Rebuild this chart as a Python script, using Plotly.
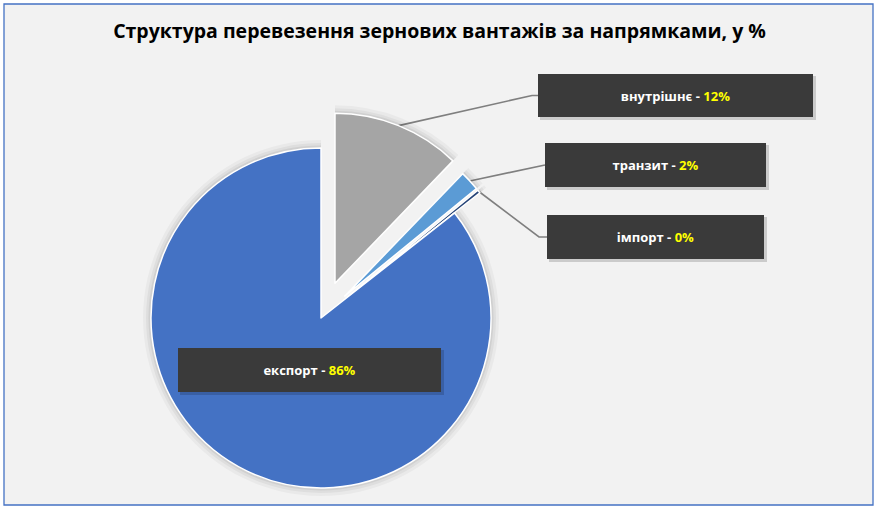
import math
import plotly.graph_objects as go

# --- data ---
categories = ["внутрішнє", "транзит", "імпорт", "експорт"]
shares = [12.2, 1.9, 0.3, 85.6]
title_text = "Структура перевезення зернових вантажів за напрямками, у %"

# --- styling / layout ---
W, H = 879, 510
CX, CY, R = 321, 318, 170          # pie centre & radius in px
colors = ["#A5A5A5", "#5B9BD5", "#264478", "#4472C4"]
pulls = [0.22, 0.19, 0.19, 0.0]    # explosion, fraction of radius
# label boxes in px: x0, y0, x1, y1
boxes = [(538, 74, 813, 117), (545, 143, 766, 187), (547, 215, 764, 259), (178, 348, 441, 392)]
elbow_gap = [6, 0, 8, None]
FONT = "Open Sans"

total = sum(shares)
fig = go.Figure()

# slice geometry: mid angle and exploded centre of each slice
cum = 0.0
mids, centres = [], []
for i in range(len(categories)):
    frac = shares[i] / total
    mid = (cum + frac / 2) * 2 * math.pi
    cum += frac
    mids.append(mid)
    d = pulls[i] * R
    centres.append((CX + d * math.sin(mid), CY - d * math.cos(mid)))


def pie_trace(i, r, fill, line_col, line_w):
    # one pie per slice, other slices transparent, "pull" done by moving the domain
    cx, cy = centres[i]
    cols = ["rgba(0,0,0,0)"] * len(categories)
    lcols = ["rgba(0,0,0,0)"] * len(categories)
    cols[i] = fill
    lcols[i] = line_col
    return go.Pie(
        labels=categories, values=shares, sort=False, direction="clockwise", rotation=0,
        marker=dict(colors=cols, line=dict(color=lcols, width=line_w)),
        textinfo="none", showlegend=False, hoverinfo="label+percent",
        domain=dict(x=[(cx - r) / W, (cx + r) / W], y=[(H - cy - r) / H, (H - cy + r) / H]),
    )


# soft shadow first, then the real slices
for grow, alpha in [(8, 0.035), (5, 0.045), (2.5, 0.06)]:
    for i in range(len(categories)):
        fig.add_trace(pie_trace(i, R + grow, f"rgba(0,0,0,{alpha})", "rgba(0,0,0,0)", 0))
for i in range(len(categories)):
    fig.add_trace(pie_trace(i, R, colors[i], "#FFFFFF", 1.5))

shapes = [dict(type="rect", xref="paper", yref="paper", x0=4 / W, x1=873 / W, y0=1 - 505 / H, y1=1 - 4 / H,
               fillcolor="#F2F2F2", line=dict(color="#4472C4", width=1.3), layer="below")]
annotations = []
for i, cat in enumerate(categories):
    x0, y0, x1, y1 = boxes[i]
    ym = (y0 + y1) / 2
    cx, cy = centres[i]
    # leader line from slice edge to label box
    if elbow_gap[i] is not None:
        sx = cx + R * math.sin(mids[i])
        sy = cy - R * math.cos(mids[i])
        fig.add_trace(go.Scatter(
            x=[sx, x0 - elbow_gap[i], x0], y=[sy, ym, ym], mode="lines",
            line=dict(color="#7F7F7F", width=1.6), hoverinfo="skip", showlegend=False,
        ))
    # box shadow
    shapes.append(dict(type="rect", xref="paper", yref="paper",
                       x0=(x0 + 2) / W, x1=(x1 + 3) / W, y0=1 - (y1 + 3) / H, y1=1 - (y0 + 2) / H,
                       fillcolor="rgba(0,0,0,0.16)", line=dict(width=0), layer="above"))
    pct = round(shares[i] / total * 100)
    annotations.append(dict(
        xref="paper", yref="paper", x=(x0 + x1) / 2 / W, y=1 - ym / H,
        xanchor="center", yanchor="middle", showarrow=False,
        width=x1 - x0, height=y1 - y0, borderpad=0, borderwidth=0,
        bgcolor="#3A3A3A",
        text=f"<b>{cat} - <span style='color:#FFFF00'>{pct}%</span></b>",
        font=dict(family=FONT, size=13, color="#FFFFFF"),
    ))

fig.update_layout(
    width=W, height=H,
    margin=dict(l=0, r=0, t=0, b=0, pad=0),
    paper_bgcolor="#FFFFFF", plot_bgcolor="rgba(0,0,0,0)",
    title=dict(text=f"<b>{title_text}</b>", x=0.5, xanchor="center", y=1 - 31 / H, yanchor="middle",
               yref="paper", font=dict(family=FONT, size=19.5, color="#000000")),
    xaxis=dict(range=[0, W], visible=False, fixedrange=True, domain=[0, 1]),
    yaxis=dict(range=[H, 0], visible=False, fixedrange=True, domain=[0, 1]),
    shapes=shapes,
    annotations=annotations,
    showlegend=False,
)

# page body has a default 8px margin; drop it so the chart sits at the window origin
fig.write_html("out.html", config={"displayModeBar": False},
               post_script="document.body.style.margin='0';")
